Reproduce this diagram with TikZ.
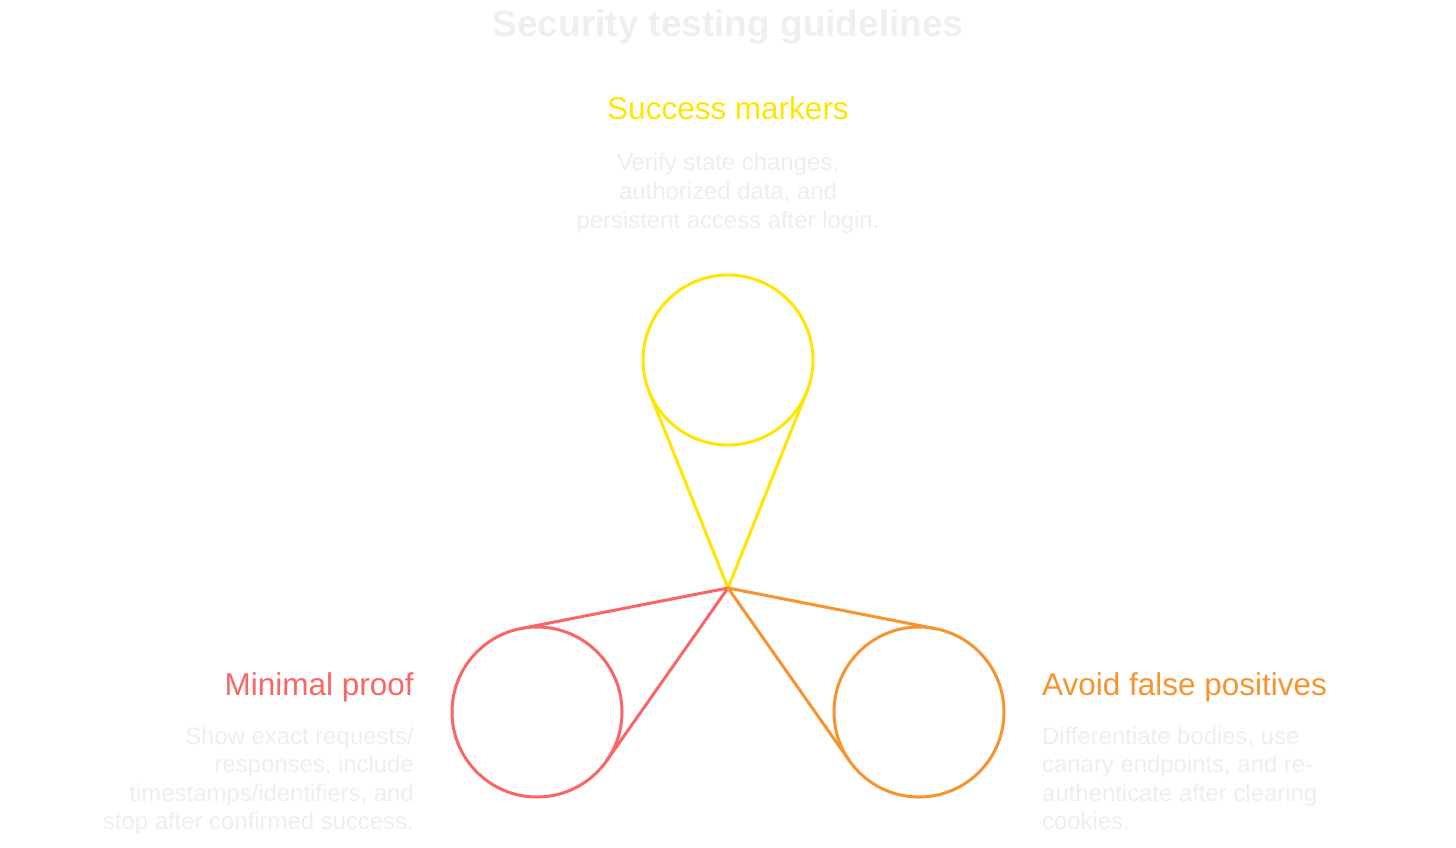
\documentclass[tikz,border=0pt]{standalone}
\usepackage{fontspec}
\setmainfont{Liberation Sans}
\usetikzlibrary{calc}
\definecolor{cyel}{HTML}{FFE500}
\definecolor{cred}{HTML}{FA6565}
\definecolor{corg}{HTML}{F7942F}
\definecolor{ctitle}{HTML}{EFEFEF}
\definecolor{cdesc}{HTML}{EEEEEE}
\tikzset{
  ring/.style={circle, draw, line width=3pt, minimum size=170pt, inner sep=0pt, outer sep=0pt},
  link/.style={line width=3pt, line cap=round, line join=round},
  titletext/.style={font=\fontsize{37}{42}\selectfont\bfseries, text=ctitle, inner sep=0pt, anchor=base},
  headtext/.style={font=\fontsize{31.5}{36}\selectfont, inner sep=0pt, anchor=base},
  desctext/.style={font=\fontsize{23.9}{28}\selectfont, text=cdesc, inner sep=0pt, anchor=base},
}
\begin{document}
\begin{tikzpicture}[x=1pt,y=-1pt]
\useasboundingbox (0,0) rectangle (1456,848);
\node[titletext] (title) at (728,36.5) {Security testing guidelines};
\coordinate (apex) at (728,588);
\node[ring, draw=cyel] (cy) at (728,360) {};
\node[ring, draw=cred] (cr) at (537,712) {};
\node[ring, draw=corg] (co) at (919,712) {};
\draw[link, cyel] (tangent cs:node=cy,point={(apex)},solution=1) -- (apex) -- (tangent cs:node=cy,point={(apex)},solution=2);
\draw[link, cred] (tangent cs:node=cr,point={(apex)},solution=1) -- (apex) -- (tangent cs:node=cr,point={(apex)},solution=2);
\draw[link, corg] (tangent cs:node=co,point={(apex)},solution=1) -- (apex) -- (tangent cs:node=co,point={(apex)},solution=2);
% top
\node[headtext, text=cyel] (h1) at (728,120) {Success markers};
\node[desctext] (d1a) at (728,171) {Verify state changes,};
\node[desctext] (d1b) at (728,199.5) {authorized data, and};
\node[desctext] (d1c) at (728,228) {persistent access after login.};
% left
\node[headtext, text=cred, anchor=base east] (h2) at (414,695.5) {Minimal proof};
\node[desctext, anchor=base east] (d2a) at (414,744) {Show exact requests/};
\node[desctext, anchor=base east] (d2b) at (414,772.5) {responses, include};
\node[desctext, anchor=base east] (d2c) at (414,801) {timestamps/identifiers, and};
\node[desctext, anchor=base east] (d2d) at (414,829.5) {stop after confirmed success.};
% right
\node[headtext, text=corg, anchor=base west] (h3) at (1042,695.5) {Avoid false positives};
\node[desctext, anchor=base west] (d3a) at (1042,744) {Differentiate bodies, use};
\node[desctext, anchor=base west] (d3b) at (1042,772.5) {canary endpoints, and re-};
\node[desctext, anchor=base west] (d3c) at (1042,801) {authenticate after clearing};
\node[desctext, anchor=base west] (d3d) at (1042,829.5) {cookies.};
\end{tikzpicture}
\end{document}
